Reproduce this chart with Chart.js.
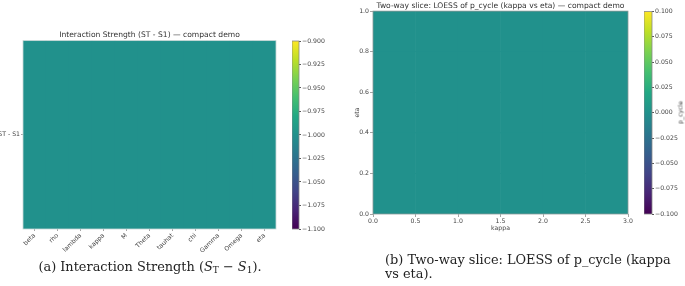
<!DOCTYPE html>
<html><head><meta charset="utf-8">
<script src="https://cdn.jsdelivr.net/npm/chart.js@4.4.1/dist/chart.umd.min.js"></script>
<style>
html,body{margin:0;padding:0;background:#fff;}
body{width:685px;height:286px;overflow:hidden;position:relative;font-family:"DejaVu Sans",sans-serif;}
canvas{position:absolute;}
.cap{position:absolute;font-family:"DejaVu Serif",serif;font-size:12.9px;color:#222;white-space:nowrap;line-height:14px;}
.cblabel{position:absolute;font-family:"DejaVu Sans";font-size:6.2px;color:#444;transform:rotate(-90deg);transform-origin:center center;white-space:nowrap;}
</style></head><body>
<canvas id="hA" width="285" height="262" style="left:0;top:0"></canvas>
<canvas id="cbA" width="40" height="250" style="left:292px;top:0"></canvas>
<canvas id="hB" width="295" height="232" style="left:345px;top:0"></canvas>
<canvas id="cbB" width="41" height="232" style="left:644px;top:0"></canvas>
<div class="cblabel" id="pl" style="left:662px;top:109px;width:36px;text-align:center;">p_cycle</div>
<div class="cap" id="capA" style="left:0;width:300px;top:260px;text-align:center;">(a) Interaction Strength (<i>S</i><sub style="font-size:9px;vertical-align:-2px">T</sub> − <i>S</i><sub style="font-size:9px;vertical-align:-2px">1</sub>).</div>
<div class="cap" id="capB" style="left:385px;top:253px;">(b) Two-way slice: LOESS of p_cycle (kappa<br>vs eta).</div>
<script>
// ---- data ----
const params = ['beta','rho','lambda','kappa','M','Theta','tauhat','chi','Gamma','Omega','eta'];
const rowLabels = ['ST - S1'];
const interaction = [-1.0,-1.0,-1.0,-1.0,-1.0,-1.0,-1.0,-1.0,-1.0,-1.0,-1.0];
const cbTicksA = [-1.100,-1.075,-1.050,-1.025,-1.000,-0.975,-0.950,-0.925,-0.900];
const kappaEdges = [0.0,0.5,1.0,1.5,2.0,2.5,3.0];
const etaEdges = [0.0,0.2,0.4,0.6,0.8,1.0];
const pCycle = [
  [0,0,0,0,0,0],
  [0,0,0,0,0,0],
  [0,0,0,0,0,0],
  [0,0,0,0,0,0],
  [0,0,0,0,0,0]
];
const kappaTicks = [0.0,0.5,1.0,1.5,2.0,2.5,3.0];
const etaTicks = [0.0,0.2,0.4,0.6,0.8,1.0];
const cbTicksB = [-0.100,-0.075,-0.050,-0.025,0.000,0.025,0.050,0.075,0.100];
const rangeA = [-1.1,-0.9];
const rangeB = [-0.1,0.1];

// ---- helpers ----
const viridisStops = ['#440154','#482475','#414487','#355f8d','#2a788e','#21918c','#22a884','#44bf70','#7ad151','#bddf26','#fde725'];
function hex2rgb(h){return [parseInt(h.slice(1,3),16),parseInt(h.slice(3,5),16),parseInt(h.slice(5,7),16)];}
function viridis(t){
  t=Math.max(0,Math.min(1,t));
  const p=t*(viridisStops.length-1), i=Math.min(Math.floor(p),viridisStops.length-2), f=p-i;
  const a=hex2rgb(viridisStops[i]), b=hex2rgb(viridisStops[i+1]);
  return 'rgb('+a.map((v,k)=>Math.round(v+(b[k]-v)*f)).join(',')+')';
}
const norm=(v,r)=>(v-r[0])/(r[1]-r[0]);
const fmt=v=>(v<0?'\u2212':'')+Math.abs(v).toFixed(3);
const TICK_FONT={family:'DejaVu Sans',size:6.2};
const TICK_COL='#444';
const GRID_COL='rgba(255,255,255,0.3)';
function frame(col){return {id:'frame',afterDraw(c){const a=c.chartArea,x=c.ctx;x.save();x.strokeStyle=col;x.lineWidth=0.8;x.strokeRect(a.left,a.top,a.right-a.left,a.bottom-a.top);x.restore();}};}
Chart.defaults.font.family='DejaVu Sans';

// ---- panel (a) heatmap ----
new Chart(document.getElementById('hA'),{
  type:'bar',
  data:{labels:params,datasets:rowLabels.map((r,i)=>({
    data:params.map(()=>[i-0.5,i+0.5]),
    backgroundColor:interaction.map(v=>viridis(norm(v,rangeA))),
    borderWidth:0,barPercentage:1,categoryPercentage:1,grouped:false
  }))},
  options:{responsive:false,devicePixelRatio:1,animation:false,events:[],
    layout:{padding:{top:30.5,right:9,left:0,bottom:0}},
    plugins:{legend:{display:false},tooltip:{enabled:false},
      title:{display:true,fullSize:false,text:'Interaction Strength (ST - S1) \u2014 compact demo',font:{family:'DejaVu Sans',size:7.6,weight:'normal'},color:'#333',padding:{top:0,bottom:1}}},
    scales:{
      x:{type:'category',offset:true,z:1,
        grid:{offset:false,color:GRID_COL,lineWidth:0.6,tickLength:2,tickColor:'#666'},
        border:{display:false},
        ticks:{font:TICK_FONT,color:TICK_COL,maxRotation:45,minRotation:45,padding:1,autoSkip:false},
        afterFit:s=>{s.height=33;}},
      y:{type:'linear',min:-0.5,max:0.5,z:1,
        afterBuildTicks:s=>{s.ticks=rowLabels.map((_,i)=>({value:i}));},
        grid:{color:GRID_COL,lineWidth:0.6,tickLength:2,tickColor:'#666'},
        border:{display:false},
        ticks:{font:TICK_FONT,color:TICK_COL,padding:1,callback:(v,i)=>rowLabels[i]},
        afterFit:s=>{s.width=23;}}
    }},
  plugins:[frame('#c8d8d6')]
});

// ---- colorbars ----
function colorbar(id,ticks,range,padTop,padBottom){
  new Chart(document.getElementById(id),{
    type:'bar',
    data:{labels:[''],datasets:[{data:[[range[0],range[1]]],
      backgroundColor:ctx=>{const c=ctx.chart;if(!c.chartArea)return null;const y=c.scales.y;
        const g=c.ctx.createLinearGradient(0,y.getPixelForValue(range[0]),0,y.getPixelForValue(range[1]));
        viridisStops.forEach((s,i)=>g.addColorStop(i/(viridisStops.length-1),s));return g;},
      borderWidth:0,barPercentage:1,categoryPercentage:1}]},
    options:{responsive:false,devicePixelRatio:1,animation:false,events:[],
      layout:{padding:{top:padTop,bottom:padBottom,left:0,right:0}},
      plugins:{legend:{display:false},tooltip:{enabled:false}},
      scales:{
        x:{display:false},
        y:{position:'right',min:range[0],max:range[1],
          afterBuildTicks:s=>{s.ticks=ticks.map(v=>({value:v}));},
          grid:{drawOnChartArea:false,tickLength:2,tickColor:'#555'},
          border:{display:false},
          ticks:{font:TICK_FONT,color:TICK_COL,padding:1,callback:(v,i)=>fmt(ticks[i])},
          afterFit:s=>{s.width=s.chart.width-(id==='cbA'?7:8);}}
      }},
    plugins:[frame('#888')]
  });
}
colorbar('cbA',cbTicksA,rangeA,41,21);
colorbar('cbB',cbTicksB,rangeB,11.5,18);

// ---- panel (b) heatmap ----
new Chart(document.getElementById('hB'),{
  type:'bar',
  data:{datasets:etaEdges.slice(0,-1).map((e,i)=>({
    data:kappaEdges.slice(0,-1).map((k,j)=>({x:(kappaEdges[j]+kappaEdges[j+1])/2,y:[etaEdges[i],etaEdges[i+1]]})),
    backgroundColor:pCycle[i].map(v=>viridis(norm(v,rangeB))),
    borderWidth:0,barPercentage:1,categoryPercentage:1,grouped:false
  }))},
  options:{responsive:false,devicePixelRatio:1,animation:false,events:[],
    layout:{padding:{top:1,right:12,left:0,bottom:0}},
    plugins:{legend:{display:false},tooltip:{enabled:false},
      title:{display:true,fullSize:false,text:'Two-way slice: LOESS of p_cycle (kappa vs eta) \u2014 compact demo',font:{family:'DejaVu Sans',size:7.6,weight:'normal'},color:'#333',padding:{top:0,bottom:1}}},
    scales:{
      x:{type:'linear',min:0,max:3,offset:false,z:1,
        afterBuildTicks:s=>{s.ticks=kappaTicks.map(v=>({value:v}));},
        grid:{offset:false,color:GRID_COL,lineWidth:0.6,tickLength:3,tickColor:'#666'},
        border:{display:false},
        ticks:{font:TICK_FONT,color:TICK_COL,padding:1,maxRotation:0,callback:(v,i)=>kappaTicks[i].toFixed(1)},
        title:{display:true,text:'kappa',font:{family:'DejaVu Sans',size:6.2},color:'#444',padding:{top:0,bottom:0}},
        afterFit:s=>{s.height=18;}},
      y:{type:'linear',min:0,max:1,z:1,
        afterBuildTicks:s=>{s.ticks=etaTicks.map(v=>({value:v}));},
        grid:{color:GRID_COL,lineWidth:0.6,tickLength:3,tickColor:'#666'},
        border:{display:false},
        ticks:{font:TICK_FONT,color:TICK_COL,padding:1,callback:(v,i)=>etaTicks[i].toFixed(1)},
        title:{display:true,text:'eta',font:{family:'DejaVu Sans',size:6.2},color:'#444',padding:{top:8.3,bottom:0}},
        afterFit:s=>{s.width=28;}}
    }},
  plugins:[frame('#8a9a98')]
});
</script>
</body></html>
